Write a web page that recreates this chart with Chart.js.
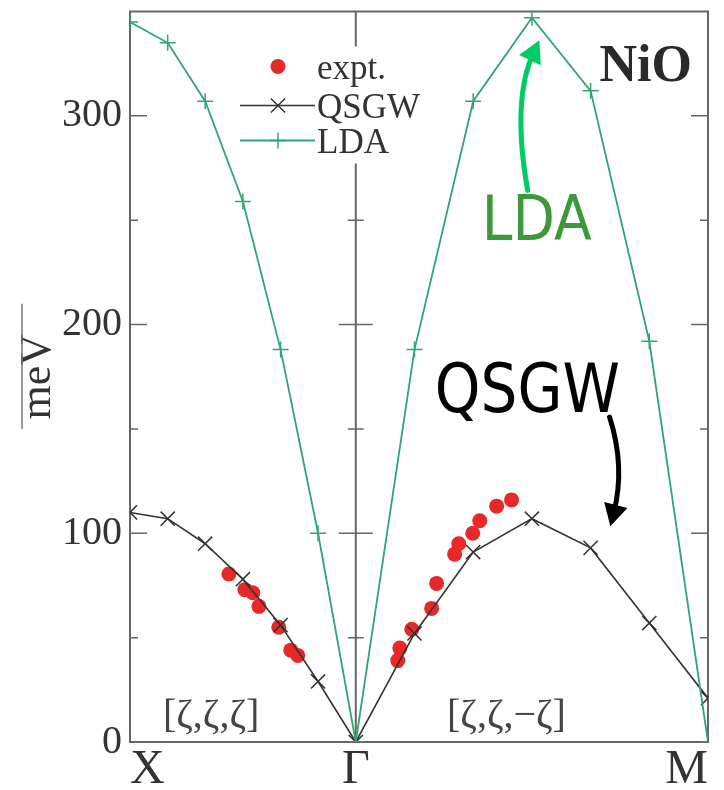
<!DOCTYPE html>
<html>
<head>
<meta charset="utf-8">
<script src="https://cdn.jsdelivr.net/npm/chart.js@4.4.0/dist/chart.umd.min.js"></script>
<style>
  html, body { margin: 0; padding: 0; background: #fff; }
  canvas { display: block; }
</style>
</head>
<body>
<canvas id="nio" width="724" height="790"></canvas>
<script>
// position along the path X -> Γ -> M (X–Γ has length 1)
const kPath = [0, 0.167, 0.333, 0.5, 0.667, 0.833, 1, 1.26, 1.52, 1.78, 2.04, 2.30, 2.56];
const qsgwMeV = [110, 107, 95, 78, 56, 29, 0, 52, 91, 107, 93, 57, 21];
const ldaMeV = [345, 335, 307, 259, 188, 100, 0, 188, 307, 347, 312, 192, 0];

// measured magnon energies
const exptK = [0.438, 0.509, 0.544, 0.571, 0.659, 0.712, 0.743,
               1.186, 1.195, 1.248, 1.336, 1.358, 1.438, 1.456, 1.518, 1.549, 1.624, 1.690];
const exptMeV = [80.5, 73, 71.5, 65, 55, 44, 41.5,
                 39, 45, 54, 64, 76, 90, 95, 100, 106, 113, 116];

const symPoints = [0, 1, 2.56];
const symLabels = ['X', 'Γ', 'M'];
const yMax = 350;

const SERIF = '"Liberation Serif", "Times New Roman", serif';
const HAND = '"Comic Sans MS", "DejaVu Sans", sans-serif';
const LDA_GREEN = '#30a574';
const QSGW_GREY = '#333333';
const EXPT_RED = '#e62828';
const AXIS = '#666666';

const toXY = (xs, ys) => xs.map((x, i) => ({ x, y: ys[i] }));

function drawMarker(ctx, style, cx, cy, r) {
    ctx.beginPath();
    if (style === 'circle') {
        ctx.arc(cx, cy, r, 0, Math.PI * 2);
        ctx.fill();
        return;
    }
    if (style === 'crossRot') {
        const d = r * Math.SQRT1_2;
        ctx.moveTo(cx - d, cy - d); ctx.lineTo(cx + d, cy + d);
        ctx.moveTo(cx + d, cy - d); ctx.lineTo(cx - d, cy + d);
    } else {
        ctx.moveTo(cx - r, cy); ctx.lineTo(cx + r, cy);
        ctx.moveTo(cx, cy - r); ctx.lineTo(cx, cy + r);
    }
    ctx.stroke();
}

function curvedArrow(ctx, pts, color, width, headLen, headHalf) {
    const [p0, p1, p2] = pts;
    ctx.strokeStyle = color;
    ctx.fillStyle = color;
    ctx.lineWidth = width;
    ctx.lineCap = 'round';
    ctx.beginPath();
    ctx.moveTo(p0[0], p0[1]);
    ctx.quadraticCurveTo(p1[0], p1[1], p2[0], p2[1]);
    ctx.stroke();
    const ang = Math.atan2(p2[1] - p1[1], p2[0] - p1[0]);
    const ux = Math.cos(ang), uy = Math.sin(ang);
    const tip = [p2[0] + ux * headLen * 0.6, p2[1] + uy * headLen * 0.6];
    const bx = tip[0] - ux * headLen, by = tip[1] - uy * headLen;
    ctx.beginPath();
    ctx.moveTo(tip[0], tip[1]);
    ctx.lineTo(bx - uy * headHalf, by + ux * headHalf);
    ctx.lineTo(bx + uy * headHalf, by - ux * headHalf);
    ctx.closePath();
    ctx.fill();
}

const framePlugin = {
    id: 'frame',
    beforeDatasetsDraw(chart) {
        const { ctx, chartArea: a, scales: { x, y } } = chart;
        const gx = x.getPixelForValue(symPoints[1]);
        ctx.save();
        ctx.strokeStyle = AXIS;
        ctx.lineWidth = 2;
        ctx.strokeRect(a.left, a.top, a.right - a.left, a.bottom - a.top);
        ctx.beginPath();
        ctx.moveTo(gx, a.top);
        ctx.lineTo(gx, a.bottom);
        ctx.stroke();
        // major ticks every 100 meV, minor every 50
        ctx.lineWidth = 1.5;
        for (let v = 50; v < yMax; v += 50) {
            const py = y.getPixelForValue(v);
            const len = v % 100 === 0 ? 17 : 8;
            ctx.beginPath();
            ctx.moveTo(a.left, py); ctx.lineTo(a.left + len, py);
            ctx.moveTo(gx - len, py); ctx.lineTo(gx + len, py);
            ctx.moveTo(a.right - len, py); ctx.lineTo(a.right, py);
            ctx.stroke();
        }
        // bar beside the unit label
        ctx.strokeStyle = '#777';
        ctx.lineWidth = 1.5;
        ctx.beginPath();
        ctx.moveTo(22, y.getPixelForValue(210));
        ctx.lineTo(22, y.getPixelForValue(150));
        ctx.stroke();
        ctx.restore();
    },
    afterDatasetsDraw(chart) {
        const { ctx, chartArea: a, scales: { x, y } } = chart;
        const X = v => x.getPixelForValue(v);
        const Y = v => y.getPixelForValue(v);
        ctx.save();

        // legend box
        ctx.fillStyle = '#fff';
        ctx.fillRect(a.left + 104, a.top + 35, 196, 117);
        const rows = [
            { ds: chart.data.datasets[2], y: a.top + 55, line: false },
            { ds: chart.data.datasets[1], y: a.top + 94, line: true },
            { ds: chart.data.datasets[0], y: a.top + 129, line: true }
        ];
        const mx = a.left + 148;
        ctx.font = '35px ' + SERIF;
        ctx.textBaseline = 'alphabetic';
        rows.forEach(r => {
            const ds = r.ds;
            if (r.line) {
                ctx.strokeStyle = ds.borderColor;
                ctx.lineWidth = ds.borderWidth;
                ctx.beginPath();
                ctx.moveTo(a.left + 110, r.y);
                ctx.lineTo(a.left + 185, r.y);
                ctx.stroke();
            }
            ctx.strokeStyle = ds.pointBorderColor || ds.borderColor;
            ctx.fillStyle = ds.pointBackgroundColor || ds.backgroundColor;
            ctx.lineWidth = ds.pointBorderWidth || 1;
            drawMarker(ctx, ds.pointStyle, mx, r.y, ds.pointRadius);
            ctx.fillStyle = '#333';
            ctx.fillText(ds.label, a.left + 187, r.y + 12);
        });

        // compound name
        ctx.fillStyle = '#2a2a2a';
        ctx.font = 'bold 52px ' + SERIF;
        ctx.textAlign = 'right';
        ctx.fillText('NiO', X(2.489), Y(316.7));

        // direction labels
        ctx.fillStyle = '#444';
        ctx.font = '40px ' + SERIF;
        ctx.textAlign = 'left';
        ctx.fillText('[ζ,ζ,ζ]', X(0.146), Y(7.1));
        ctx.fillText('[ζ,ζ,−ζ]', X(1.404), Y(7.1));

        // hand-drawn call-outs
        ctx.font = '62px ' + HAND;
        ctx.fillStyle = '#3a9a3a';
        ctx.fillText('LDA', X(1.558), Y(240.5), 110);
        curvedArrow(ctx, [[X(1.761), Y(264.3)], [X(1.690), Y(308.1)], [X(1.788), Y(330.5)]],
            '#00cc66', 5, 22, 12);

        ctx.font = '68px ' + HAND;
        ctx.fillStyle = '#000';
        ctx.fillText('QSGW', X(1.350), Y(158), 185);
        curvedArrow(ctx, [[X(2.124), Y(155.7)], [X(2.195), Y(131.9)], [X(2.142), Y(109.5)]],
            '#000', 5, 22, 12);

        ctx.restore();
    }
};

new Chart(document.getElementById('nio'), {
    type: 'line',
    data: {
        datasets: [
            {
                label: 'LDA',
                data: toXY(kPath, ldaMeV),
                borderColor: LDA_GREEN,
                borderWidth: 1.8,
                pointStyle: 'cross',
                pointRadius: 8,
                pointBorderColor: LDA_GREEN,
                pointBorderWidth: 1.5,
                tension: 0,
                order: 1
            },
            {
                label: 'QSGW',
                data: toXY(kPath, qsgwMeV),
                borderColor: QSGW_GREY,
                borderWidth: 1.6,
                pointStyle: 'crossRot',
                pointRadius: 10,
                pointBorderColor: QSGW_GREY,
                pointBorderWidth: 1.5,
                tension: 0,
                order: 2
            },
            {
                label: 'expt.',
                data: toXY(exptK, exptMeV),
                showLine: false,
                pointStyle: 'circle',
                pointRadius: 7.5,
                pointBackgroundColor: EXPT_RED,
                backgroundColor: EXPT_RED,
                pointBorderWidth: 0,
                borderWidth: 0,
                order: 3
            }
        ]
    },
    options: {
        responsive: false,
        animation: false,
        devicePixelRatio: 1,
        layout: { padding: { top: 8, right: 16, bottom: 0, left: 0 } },
        plugins: { legend: { display: false }, tooltip: { enabled: false } },
        scales: {
            x: {
                type: 'linear',
                min: symPoints[0],
                max: symPoints[symPoints.length - 1],
                afterBuildTicks: s => { s.ticks = symPoints.map(v => ({ value: v })); },
                afterFit: s => { s.height = 48; s.paddingLeft = 0; s.paddingRight = 0; },
                ticks: {
                    callback: (v, i) => symLabels[i],
                    align: 'inner',
                    autoSkip: false,
                    maxRotation: 0,
                    padding: 0,
                    color: '#333',
                    font: { family: SERIF, size: 48 }
                },
                grid: { display: false, drawTicks: false },
                border: { display: false }
            },
            y: {
                min: 0,
                max: yMax,
                afterFit: s => { s.width = 130; s.paddingTop = 0; s.paddingBottom = 0; },
                ticks: {
                    stepSize: 100,
                    includeBounds: false,
                    padding: 8,
                    color: '#333',
                    font: { family: SERIF, size: 40 }
                },
                title: {
                    display: true,
                    text: 'meV',
                    color: '#333',
                    font: { family: SERIF, size: 44 },
                    padding: { top: 12, bottom: 0 }
                },
                grid: { display: false, drawTicks: false },
                border: { display: false }
            }
        }
    },
    plugins: [framePlugin]
});
</script>
</body>
</html>
